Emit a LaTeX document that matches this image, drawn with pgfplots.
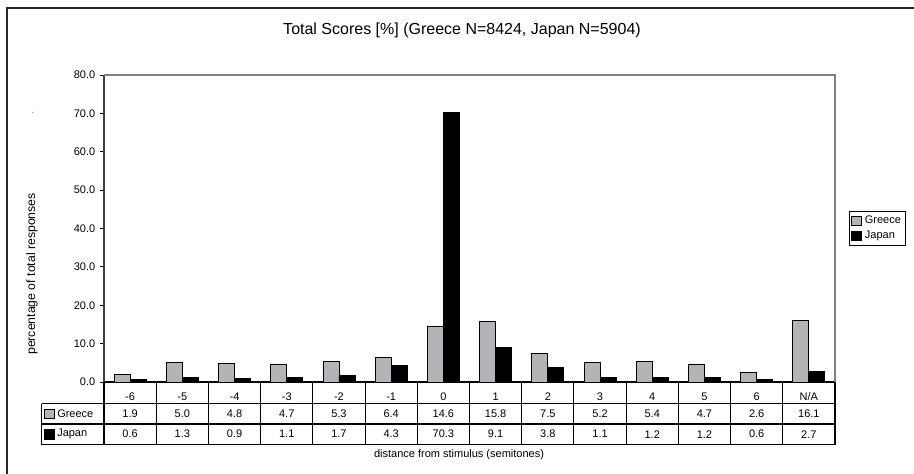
\documentclass[border=0pt]{standalone}
\usepackage{fontspec}
\setmainfont{Liberation Sans}
\usepackage{pgfplots}
\usepackage{pgfplotstable}
\pgfplotsset{compat=1.18}

\definecolor{barGray}{RGB}{180,180,184}
\definecolor{frameGray}{RGB}{128,128,128}
\newcommand{\fs}{\fontsize{8.25}{9.5}\selectfont}

% distance from stimulus, Greece %, Japan %
\pgfplotstableread{
x cat greece japan
0 -6 1.9 0.6
1 -5 5.0 1.3
2 -4 4.8 0.9
3 -3 4.7 1.1
4 -2 5.3 1.7
5 -1 6.4 4.3
6 0 14.6 70.3
7 1 15.8 9.1
8 2 7.5 3.8
9 3 5.2 1.1
10 4 5.4 1.2
11 5 4.7 1.2
12 6 2.6 0.6
13 N/A 16.1 2.7
}\data

\begin{document}
\begin{tikzpicture}
  % page and frame, in pixels of the reference (y downwards)
  \begin{scope}[x=0.75pt,y=-0.75pt]
    \useasboundingbox (0,0) rectangle (914,474);
    \draw[line width=1.1pt,black!85] (7,8) rectangle (930,490);
    \node[font=\fontsize{12}{14}\selectfont] at (462,30)
      {Total Scores [\%] (Greece N=8424, Japan N=5904)};
    \node[font=\fontsize{9.2}{11}\selectfont,rotate=90] at (32,274)
      {percentage of total responses};
    \node[font=\fs,text=black!50,anchor=base] at (33,114) {.};
  \end{scope}

  \begin{axis}[
      at={(78pt,-286.5pt)}, anchor=south west,
      scale only axis, width=548.25pt, height=230.25pt,
      xmin=-0.5, xmax=13.5, ymin=0, ymax=80,
      ybar=0pt, bar width=12pt,
      axis x line*=bottom, axis y line*=left,
      axis line style={-},
      x axis line style={black, line width=0.9pt},
      y axis line style={black!75, line width=1.4pt},
      xtick=data, xticklabels from table={\data}{cat},
      x tick style={draw=none},
      xticklabel style={anchor=center, yshift=-7.9pt, font=\fs},
      ytick={0,10,...,80},
      y tick style={black, line width=0.6pt},
      tick align=outside, major tick length=3pt,
      yticklabel style={font=\fs, /pgf/number format/.cd,
        fixed, fixed zerofill, precision=1, assume math mode=true},
      legend style={at={(1.0192,0.557)}, anchor=north west,
        draw=black, line width=0.6pt, font=\fs,
        inner sep=1.5pt, row sep=0pt, cells={anchor=west}},
      legend image code/.code={%
        \draw[#1, line width=0.6pt] (0pt,-3.4pt) rectangle (7.5pt,3.4pt);},
      clip=false,
    ]
    \addplot[fill=barGray, draw=black, line width=0.6pt]
      table[x=x, y=greece] {\data};
    \addplot[fill=black, draw=black, line width=0.6pt]
      table[x=x, y=japan] {\data};
    \legend{Greece, Japan}
  \end{axis}

  % plot frame, data table and axis title
  \begin{scope}[x=0.75pt,y=-0.75pt]
    \draw[frameGray, line width=0.9pt] (104,75) -- (835,75) -- (835,382);
    \draw[black, line width=0.8pt]
      (41.7,403.5) -- (835,403.5)
      (41.7,424) -- (835,424)
      (41.7,444.5) -- (835,444.5)
      (41.7,403.5) -- (41.7,444.5);
    \foreach \k in {0,...,14}
      \draw[black, line width=0.8pt] (104+52.214*\k,382) -- (104+52.214*\k,444.5);
    \foreach \i in {0,...,13}{
      \pgfplotstablegetelem{\i}{greece}\of\data
      \node[font=\fs] at (130.1+52.214*\i,413.8) {\pgfplotsretval};
      \pgfplotstablegetelem{\i}{japan}\of\data
      \node[font=\fs] at (130.1+52.214*\i,434.2) {\pgfplotsretval};
    }
    \filldraw[fill=barGray, draw=black, line width=0.6pt]
      (44.5,409.3) rectangle (54.5,418.8);
    \node[font=\fs, anchor=west, inner sep=0pt] at (57,413.8) {Greece};
    \filldraw[fill=black, draw=black, line width=0.6pt]
      (44.5,429.7) rectangle (54.5,439.2);
    \node[font=\fs, anchor=west, inner sep=0pt] at (57,434.2) {Japan};
    \node[font=\fs] at (459,455) {distance from stimulus (semitones)};
  \end{scope}
\end{tikzpicture}
\end{document}
